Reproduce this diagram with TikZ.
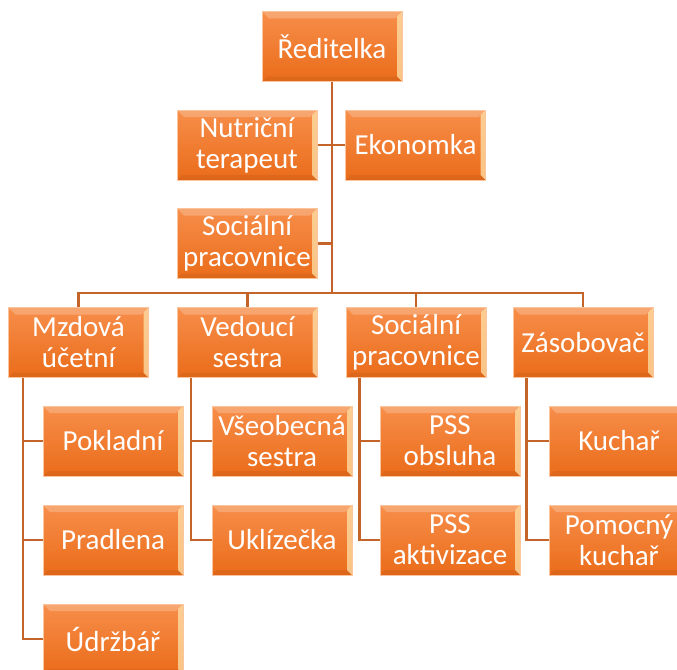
\documentclass[tikz,border=0pt]{standalone}
\usepackage{fontspec}
\setmainfont{Carlito}
\usetikzlibrary{backgrounds}
\definecolor{otop}{RGB}{247,142,74}
\definecolor{obot}{RGB}{234,108,26}
\definecolor{oedge}{RGB}{250,196,156}
\definecolor{conn}{RGB}{196,100,40}
\definecolor{hilite}{RGB}{255,226,170}
\tikzset{
  orgbox/.style={rectangle, minimum width=140pt, minimum height=70pt, inner sep=0pt,
    top color=otop, bottom color=obot, draw=oedge, line width=0.8pt,
    text=white, align=center, font=\fontsize{29}{31}\selectfont,
    path picture={
      \fill[white,opacity=0.22] (path picture bounding box.north west) -- (path picture bounding box.north east)
        -- ([xshift=-7pt,yshift=-7pt]path picture bounding box.north east) -- ([xshift=7pt,yshift=-7pt]path picture bounding box.north west) -- cycle;
      \fill[hilite,opacity=0.75] (path picture bounding box.north east) -- (path picture bounding box.south east)
        -- ([xshift=-5pt,yshift=5pt]path picture bounding box.south east) -- ([xshift=-5pt,yshift=-5pt]path picture bounding box.north east) -- cycle;
      \fill[black,opacity=0.06] (path picture bounding box.south west) -- (path picture bounding box.south east)
        -- ([xshift=-5pt,yshift=5pt]path picture bounding box.south east) -- ([xshift=5pt,yshift=5pt]path picture bounding box.south west) -- cycle;
    }},
  link/.style={draw=conn, line width=2.6pt}
}
\begin{document}
\begin{tikzpicture}[x=1pt,y=-1pt]
\useasboundingbox (0,0) rectangle (677,669);
\clip (0,0) rectangle (677,669);
\coordinate (bus) at (332,293);
\node[orgbox] (red) at (332,46.5) {Ředitelka};
\node[orgbox] (nut) at (247,145) {Nutriční\\terapeut};
\node[orgbox] (eko) at (415.5,145) {Ekonomka};
\node[orgbox] (soc1) at (247,243.5) {Sociální\\pracovnice};
\node[orgbox] (mzd) at (78.5,342.5) {Mzdová\\účetní};
\node[orgbox] (ved) at (247.5,342.5) {Vedoucí\\sestra};
\node[orgbox] (soc2) at (416,342.5) {Sociální\\pracovnice};
\node[orgbox] (zas) at (583,342.5) {Zásobovač};
\node[orgbox] (pok) at (113,441) {Pokladní};
\node[orgbox] (pra) at (113,540) {Pradlena};
\node[orgbox] (udr) at (113,639) {Údržbář};
\node[orgbox] (vse) at (282,441) {Všeobecná\\sestra};
\node[orgbox] (ukl) at (282,540) {Uklízečka};
\node[orgbox] (pss1) at (450,441) {PSS\\obsluha};
\node[orgbox] (pss2) at (450,540) {PSS\\aktivizace};
\node[orgbox] (kuc) at (619,441) {Kuchař};
\node[orgbox] (pom) at (619,540) {Pomocný\\kuchař};
\coordinate (mzdv) at ([xshift=15pt]mzd.south west);
\coordinate (vedv) at ([xshift=14pt]ved.south west);
\coordinate (socv) at ([xshift=14pt]soc2.south west);
\coordinate (zasv) at ([xshift=14pt]zas.south west);
\begin{pgfonlayer}{background}
% main trunk
\draw[link] (red.south) -- (bus);
\draw[link] (nut.east) -- (nut.east -| red.south);
\draw[link] (eko.west) -- (eko.west -| red.south);
\draw[link] (soc1.east) -- (soc1.east -| red.south);
\draw[link] (mzd.north) -- (mzd.north |- bus) -- (zas.north |- bus) -- (zas.north);
\draw[link] (ved.north) -- (ved.north |- bus);
\draw[link] (soc2.north) -- (soc2.north |- bus);
% subordinates
\draw[link] (mzdv) |- (udr.west);
\draw[link] (pok.west) -- (pok.west -| mzdv);
\draw[link] (pra.west) -- (pra.west -| mzdv);
\draw[link] (vedv) |- (ukl.west);
\draw[link] (vse.west) -- (vse.west -| vedv);
\draw[link] (socv) |- (pss2.west);
\draw[link] (pss1.west) -- (pss1.west -| socv);
\draw[link] (zasv) |- (pom.west);
\draw[link] (kuc.west) -- (kuc.west -| zasv);
\end{pgfonlayer}
\end{tikzpicture}
\end{document}
